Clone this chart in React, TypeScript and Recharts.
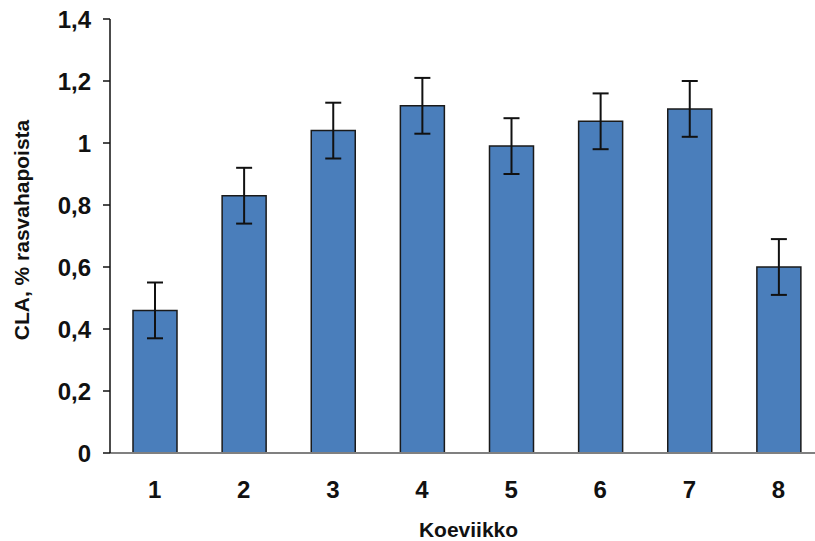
import { Bar, BarChart, ErrorBar, XAxis, YAxis } from "recharts";

// Viikoittaiset CLA-pitoisuudet (% rasvahapoista) ja keskihajonnat
const weeks = ["1", "2", "3", "4", "5", "6", "7", "8"];
const claValues = [0.46, 0.83, 1.04, 1.12, 0.99, 1.07, 1.11, 0.6];
const claErrors = [0.09, 0.09, 0.09, 0.09, 0.09, 0.09, 0.09, 0.09];
const yTicks = [0, 0.2, 0.4, 0.6, 0.8, 1, 1.2, 1.4];

const data = weeks.map((week, i) => ({
  week,
  cla: claValues[i],
  err: claErrors[i],
}));

const font = "'Liberation Sans', Arial, sans-serif";

// Pystyakselin otsikko käännettynä, keskitettynä piirtoalueen korkeudelle
const YTitle = ({ viewBox }: any) => {
  const cx = viewBox.x + 21;
  const cy = viewBox.y + viewBox.height / 2 - 6;
  return (
    <text
      x={cx}
      y={cy}
      transform={`rotate(-90, ${cx}, ${cy})`}
      textAnchor="middle"
      dominantBaseline="central"
      fill="#111"
      fontSize={21}
      fontWeight="bold"
    >
      CLA, % rasvahapoista
    </text>
  );
};

// Vaaka-akselin otsikko
const XTitle = ({ viewBox }: any) => (
  <text
    x={viewBox.x + viewBox.width / 2 + 2}
    y={viewBox.y + viewBox.height - 12}
    textAnchor="middle"
    dominantBaseline="central"
    fill="#111"
    fontSize={21}
    fontWeight="bold"
  >
    Koeviikko
  </text>
);

export default function App() {
  return (
    <div
      style={{
        position: "absolute",
        left: 0,
        top: 0,
        width: 815,
        height: 541,
        overflow: "hidden",
        background: "#fff",
      }}
    >
      <BarChart
        width={825}
        height={541}
        data={data}
        margin={{ top: 19, right: 2, bottom: 0, left: 0 }}
        style={{ fontFamily: font }}
      >
        <XAxis
          dataKey="week"
          height={88}
          axisLine={{ stroke: "#808080", strokeWidth: 2 }}
          tickLine={false}
          tick={{ fill: "#111", fontSize: 24, fontWeight: "bold" }}
          tickMargin={22}
          label={<XTitle />}
        />
        <YAxis
          width={110}
          domain={[0, 1.4]}
          ticks={yTicks}
          interval={0}
          axisLine={{ stroke: "#111", strokeWidth: 1.5 }}
          tickLine={{ stroke: "#111", strokeWidth: 1.5 }}
          tickSize={7}
          tickMargin={12}
          tick={{ fill: "#111", fontSize: 24, fontWeight: "bold" }}
          tickFormatter={(v: number) => String(v).replace(".", ",")}
          label={<YTitle />}
        />
        <Bar
          dataKey="cla"
          fill="#4a7ebb"
          stroke="#1a1a1a"
          strokeWidth={1.5}
          barSize={44}
          isAnimationActive={false}
        >
          <ErrorBar dataKey="err" width={8} stroke="#111" strokeWidth={2} />
        </Bar>
      </BarChart>
    </div>
  );
}
